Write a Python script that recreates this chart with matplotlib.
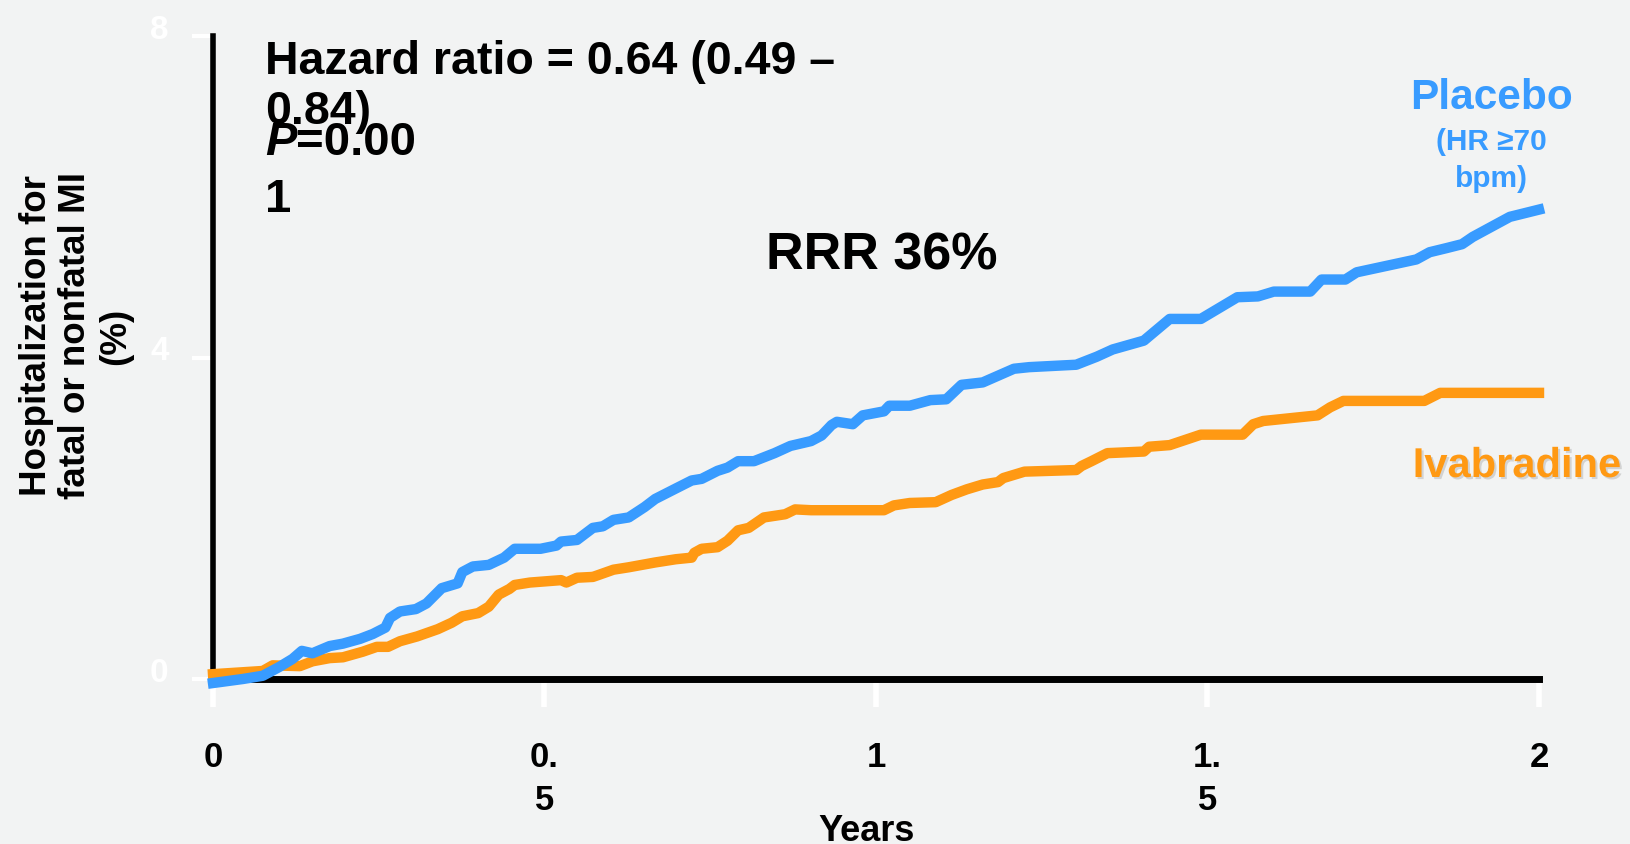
import matplotlib
matplotlib.use("Agg")
import matplotlib.pyplot as plt
import matplotlib.patheffects as pe
from matplotlib.transforms import ScaledTranslation

# cumulative incidence (years, %)
placebo_years = [0.0, 0.045, 0.075, 0.10, 0.12, 0.134, 0.15, 0.176, 0.196, 0.222,
                 0.241, 0.26, 0.267, 0.282, 0.306, 0.322, 0.345, 0.369, 0.376, 0.392,
                 0.416, 0.439, 0.455, 0.494, 0.518, 0.525, 0.549, 0.573, 0.588, 0.604,
                 0.627, 0.651, 0.667, 0.698, 0.722, 0.737, 0.761, 0.776, 0.792, 0.816,
                 0.847, 0.871, 0.902, 0.918, 0.933, 0.941, 0.965, 0.980, 1.012, 1.020,
                 1.051, 1.082, 1.106, 1.129, 1.161, 1.208, 1.231, 1.302, 1.333, 1.357,
                 1.404, 1.443, 1.490, 1.545, 1.576, 1.600, 1.655, 1.672, 1.708, 1.725,
                 1.815, 1.835, 1.860, 1.884, 1.900, 1.956, 2.0]
placebo_pct = [-0.05, 0.0, 0.04, 0.15, 0.25, 0.35, 0.32, 0.41, 0.44, 0.50,
               0.56, 0.64, 0.76, 0.84, 0.87, 0.94, 1.13, 1.19, 1.33, 1.40,
               1.42, 1.51, 1.62, 1.62, 1.66, 1.71, 1.73, 1.88, 1.90, 1.98,
               2.01, 2.14, 2.24, 2.37, 2.47, 2.49, 2.59, 2.63, 2.71, 2.71,
               2.81, 2.90, 2.96, 3.03, 3.16, 3.20, 3.17, 3.28, 3.33, 3.40,
               3.40, 3.47, 3.48, 3.66, 3.69, 3.86, 3.88, 3.91, 4.01, 4.10,
               4.21, 4.48, 4.48, 4.75, 4.76, 4.82, 4.82, 4.97, 4.97, 5.06,
               5.22, 5.31, 5.36, 5.41, 5.50, 5.75, 5.84]

ivabradine_years = [0.0, 0.075, 0.09, 0.131, 0.15, 0.176, 0.196, 0.226, 0.247, 0.264,
                    0.282, 0.308, 0.339, 0.36, 0.376, 0.40, 0.416, 0.431, 0.447, 0.455,
                    0.478, 0.525, 0.533, 0.549, 0.573, 0.580, 0.604, 0.627, 0.667, 0.698,
                    0.722, 0.726, 0.737, 0.761, 0.776, 0.792, 0.808, 0.831, 0.863, 0.878,
                    0.902, 1.012, 1.027, 1.051, 1.090, 1.114, 1.137, 1.161, 1.184, 1.192,
                    1.224, 1.302, 1.310, 1.325, 1.349, 1.404, 1.412, 1.443, 1.490, 1.553,
                    1.569, 1.584, 1.666, 1.685, 1.705, 1.827, 1.851, 2.0]
ivabradine_pct = [0.06, 0.10, 0.17, 0.16, 0.22, 0.26, 0.27, 0.34, 0.40, 0.40,
                  0.47, 0.53, 0.62, 0.70, 0.78, 0.82, 0.90, 1.05, 1.12, 1.17,
                  1.20, 1.23, 1.20, 1.26, 1.27, 1.29, 1.36, 1.39, 1.45, 1.49,
                  1.51, 1.57, 1.62, 1.64, 1.72, 1.85, 1.88, 2.01, 2.05, 2.11,
                  2.10, 2.10, 2.16, 2.19, 2.20, 2.29, 2.36, 2.42, 2.45, 2.50,
                  2.58, 2.60, 2.65, 2.71, 2.81, 2.83, 2.89, 2.91, 3.04, 3.04,
                  3.17, 3.21, 3.28, 3.38, 3.46, 3.46, 3.56, 3.56]

x_ticks = [0, 0.5, 1, 1.5, 2]
x_labels = ["0", "0.\n5", "1", "1.\n5", "2"]
y_ticks = [0, 4, 8]
y_labels = ["0", "4", "8"]

BG = "#f2f3f3"
BLUE = "#389bff"
ORANGE = "#ff9913"
W, H = 1631, 845

plt.rcParams["font.family"] = ["Liberation Sans", "DejaVu Sans"]
plt.rcParams["font.weight"] = "bold"


def px(x, y):
    # pixel position (from top-left) -> figure fraction
    return x / W, 1 - y / H


fig = plt.figure(figsize=(W / 100, H / 100), dpi=100, facecolor=BG)
ax = fig.add_axes([213 / W, 1 - 680 / H, (1539 - 213) / W, (680 - 37) / H])
ax.set_facecolor("none")

ax.plot(ivabradine_years, ivabradine_pct, color=ORANGE, lw=7.5, zorder=3, clip_on=False)
ax.plot(placebo_years, placebo_pct, color=BLUE, lw=7.5, zorder=4, clip_on=False)

ax.set_xlim(0, 2)
ax.set_ylim(0, 8)
ax.set_xticks(x_ticks)
ax.set_xticklabels(x_labels, fontsize=25, fontweight="bold", linespacing=1.38)
ax.set_yticks(y_ticks)
ax.set_yticklabels(y_labels, fontsize=24, fontweight="bold", color="white")

for side in ("top", "right"):
    ax.spines[side].set_visible(False)
ax.spines["left"].set_linewidth(4)
ax.spines["bottom"].set_linewidth(5)

ax.tick_params(axis="x", direction="out", length=20, width=4, color="white", pad=24)
ax.tick_params(axis="y", direction="out", length=15, width=3, color="white", pad=17)

# y tick labels sit a little above their ticks in the original
for lab in ax.get_yticklabels():
    lab.set_transform(lab.get_transform() + ScaledTranslation(0, 0.1, fig.dpi_scale_trans))

fig.text(*px(76, 336), "Hospitalization for\nfatal or nonfatal MI\n(%)",
         rotation=90, ha="center", va="center", fontsize=26.5, linespacing=1.16)
fig.text(*px(867, 841), "Years", ha="center", va="baseline", fontsize=26)

# annotation block, top left (lines overlap like in the slide)
fig.text(*px(265, 74), "Hazard ratio = 0.64 (0.49 \u2013", ha="left", va="baseline", fontsize=33.5)
fig.text(*px(265, 124), "0.84)", ha="left", va="baseline", fontsize=33.5)
p_txt = fig.text(*px(265, 155), "P", ha="left", va="baseline", fontsize=34, style="italic")
ax.annotate("=0.00", xy=(1, 0), xycoords=p_txt, ha="left", va="bottom", fontsize=34)
fig.text(*px(265, 212), "1", ha="left", va="baseline", fontsize=34)

fig.text(*px(882, 270), "RRR 36%", ha="center", va="baseline", fontsize=37.5)

fig.text(*px(1492, 109), "Placebo", ha="center", va="baseline", fontsize=30.5, color=BLUE)
fig.text(*px(1491, 150), "(HR \u226570", ha="center", va="baseline", fontsize=21.5, color=BLUE)
fig.text(*px(1491, 187), "bpm)", ha="center", va="baseline", fontsize=21.5, color=BLUE)
fig.text(*px(1517, 478), "Ivabradine", ha="center", va="baseline", fontsize=30, color=ORANGE,
         path_effects=[pe.withSimplePatchShadow(offset=(1.5, -1.5), shadow_rgbFace="#888888", alpha=0.3)])

fig.savefig("out.png", dpi=100, facecolor=BG)
